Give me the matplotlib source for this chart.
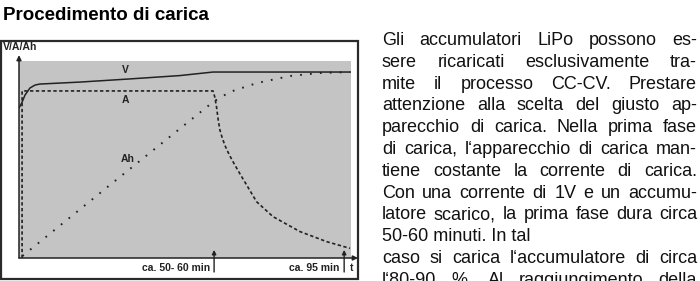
import matplotlib
matplotlib.use("Agg")
import matplotlib.pyplot as plt
from matplotlib.patches import Rectangle

plt.rcParams['font.family'] = ['Liberation Sans', 'DejaVu Sans']

# ---- data (time in minutes, values as fraction of full scale) ----
v_t = [0, 0.8, 1.75, 3.2, 4.7, 6.1, 17.8, 32.4, 47.0, 56.7, 97]
v_val = [0.761, 0.787, 0.827, 0.863, 0.878, 0.883, 0.893, 0.909, 0.926, 0.944, 0.944]

a_t = [0.9, 0.9, 56.7, 57.2, 57.7, 58.2, 58.7, 59.4, 60.3, 61.4, 62.8, 64.6, 69.4, 74.2, 82.1, 89.9, 96.7]
a_val = [0.0, 0.848, 0.848, 0.817, 0.768, 0.701, 0.650, 0.608, 0.566, 0.525, 0.480, 0.426, 0.286, 0.210, 0.134, 0.083, 0.049]

ah_t = [1.0, 26.6, 56.7, 61.6, 69.5, 79.2, 87.9, 96.7]
ah_val = [0.01, 0.371, 0.792, 0.843, 0.888, 0.924, 0.939, 0.944]

t_max = 97
marker_times = [57, 95]
marker_labels = ["ca. 50- 60 min", "ca. 95 min"]

title = "Procedimento di carica"
body_lines = [
    "Gli accumulatori LiPo possono es-",
    "sere ricaricati esclusivamente tra-",
    "mite il processo  CC-CV. Prestare",
    "attenzione alla scelta del giusto ap-",
    "parecchio di carica. Nella prima  fase",
    "di carica, l\u2018apparecchio di carica man-",
    "tiene costante la corrente di carica.",
    "Con una  corrente di 1V e un accumu-",
    "latore scarico, la prima fase dura circa",
    "50-60 minuti. In tal",
    "caso si carica l\u2018accumulatore di circa",
    "l\u201880-90 %. Al raggiungimento della",
]
justify = [True, True, True, True, True, True, True, True, True, False, True, True]

W, H = 700, 281
fig = plt.figure(figsize=(7, 2.81), dpi=100)
fig.patch.set_facecolor('white')

def fx(px):
    return px / W

def fy(py):
    return 1 - py / H

# frame box
fig.add_artist(Rectangle((fx(1), fy(279)), fx(358) - fx(1), fy(41) - fy(279),
                         transform=fig.transFigure, fill=False,
                         edgecolor='#2a2a2a', linewidth=1.6))

# chart axes (gray area)
ax = fig.add_axes([fx(19), fy(258), fx(351) - fx(19), fy(61) - fy(258)])
ax.set_facecolor('#c4c4c4')
for s in ax.spines.values():
    s.set_visible(False)
ax.set_xticks([])
ax.set_yticks([])
ax.set_xlim(0, t_max)
ax.set_ylim(0, 1)

dark = '#222222'
ax.plot(v_t, v_val, color=dark, lw=1.1, solid_capstyle='round')
ax.plot(a_t, a_val, color=dark, lw=1.2, linestyle=(0, (2.0, 1.5)))
ax.plot(ah_t, ah_val, color=dark, lw=1.4, linestyle=(0, (0.9, 4.2)))

ax.text(31, 0.954, "V", fontsize=7.5, fontweight='bold', ha='center', va='center', color=dark)
ax.text(31, 0.800, "A", fontsize=7.5, fontweight='bold', ha='center', va='center', color=dark)
ax.text(31.8, 0.503, "Ah", fontsize=7.5, fontweight='bold', ha='center', va='center', color=dark)

# axes arrows
ax.annotate('', xy=(0, 1.03), xytext=(0, 0), xycoords='axes fraction',
            arrowprops=dict(arrowstyle='-|>', lw=1.1, color=dark, mutation_scale=7,
                            shrinkA=0, shrinkB=0), annotation_clip=False)
ax.annotate('', xy=(1.021, 0), xytext=(0, 0), xycoords='axes fraction',
            arrowprops=dict(arrowstyle='-|>', lw=1.1, color=dark, mutation_scale=7,
                            shrinkA=0, shrinkB=0), annotation_clip=False)

trans = ax.get_xaxis_transform()
for tm, lab in zip(marker_times, marker_labels):
    ax.annotate('', xy=(tm, 0.041), xytext=(tm, -0.071), xycoords=trans, textcoords=trans,
                arrowprops=dict(arrowstyle='-|>', lw=1.0, color=dark, mutation_scale=6,
                                shrinkA=0, shrinkB=0), annotation_clip=False)
    ax.text(tm - 1.3, -0.051, lab, transform=trans, fontsize=7.5, fontweight='bold',
            ha='right', va='center', color=dark, clip_on=False)
ax.text(97.3, -0.051, "t", transform=trans, fontsize=7.5, fontweight='bold',
        ha='center', va='center', color=dark, clip_on=False)

fig.text(fx(3), fy(50), "V/A/Ah", fontsize=7.6, fontweight='bold', ha='left',
         va='baseline', color=dark)

# title
fig.text(fx(3), fy(20), title, fontsize=13.5, fontweight='bold', ha='left',
         va='baseline', color='black')

# justified body text
renderer = fig.canvas.get_renderer()
x0, x1 = 382, 697
base0, step = 45, 21.8
fs = 13.0
for i, (line, just) in enumerate(zip(body_lines, justify)):
    yb = fy(base0 + i * step)
    words = line.split()
    if not just or len(words) == 1:
        fig.text(fx(x0), yb, line, fontsize=fs, ha='left', va='baseline', color='#111111')
        continue
    txts = [fig.text(0, yb, w, fontsize=fs, ha='left', va='baseline', color='#111111')
            for w in words]
    widths = [t.get_window_extent(renderer=renderer).width for t in txts]
    gap = (x1 - x0 - sum(widths)) / (len(words) - 1)
    xp = x0
    for t, w in zip(txts, widths):
        t.set_x(fx(xp))
        xp += w + gap

fig.savefig("out.png", dpi=100)
